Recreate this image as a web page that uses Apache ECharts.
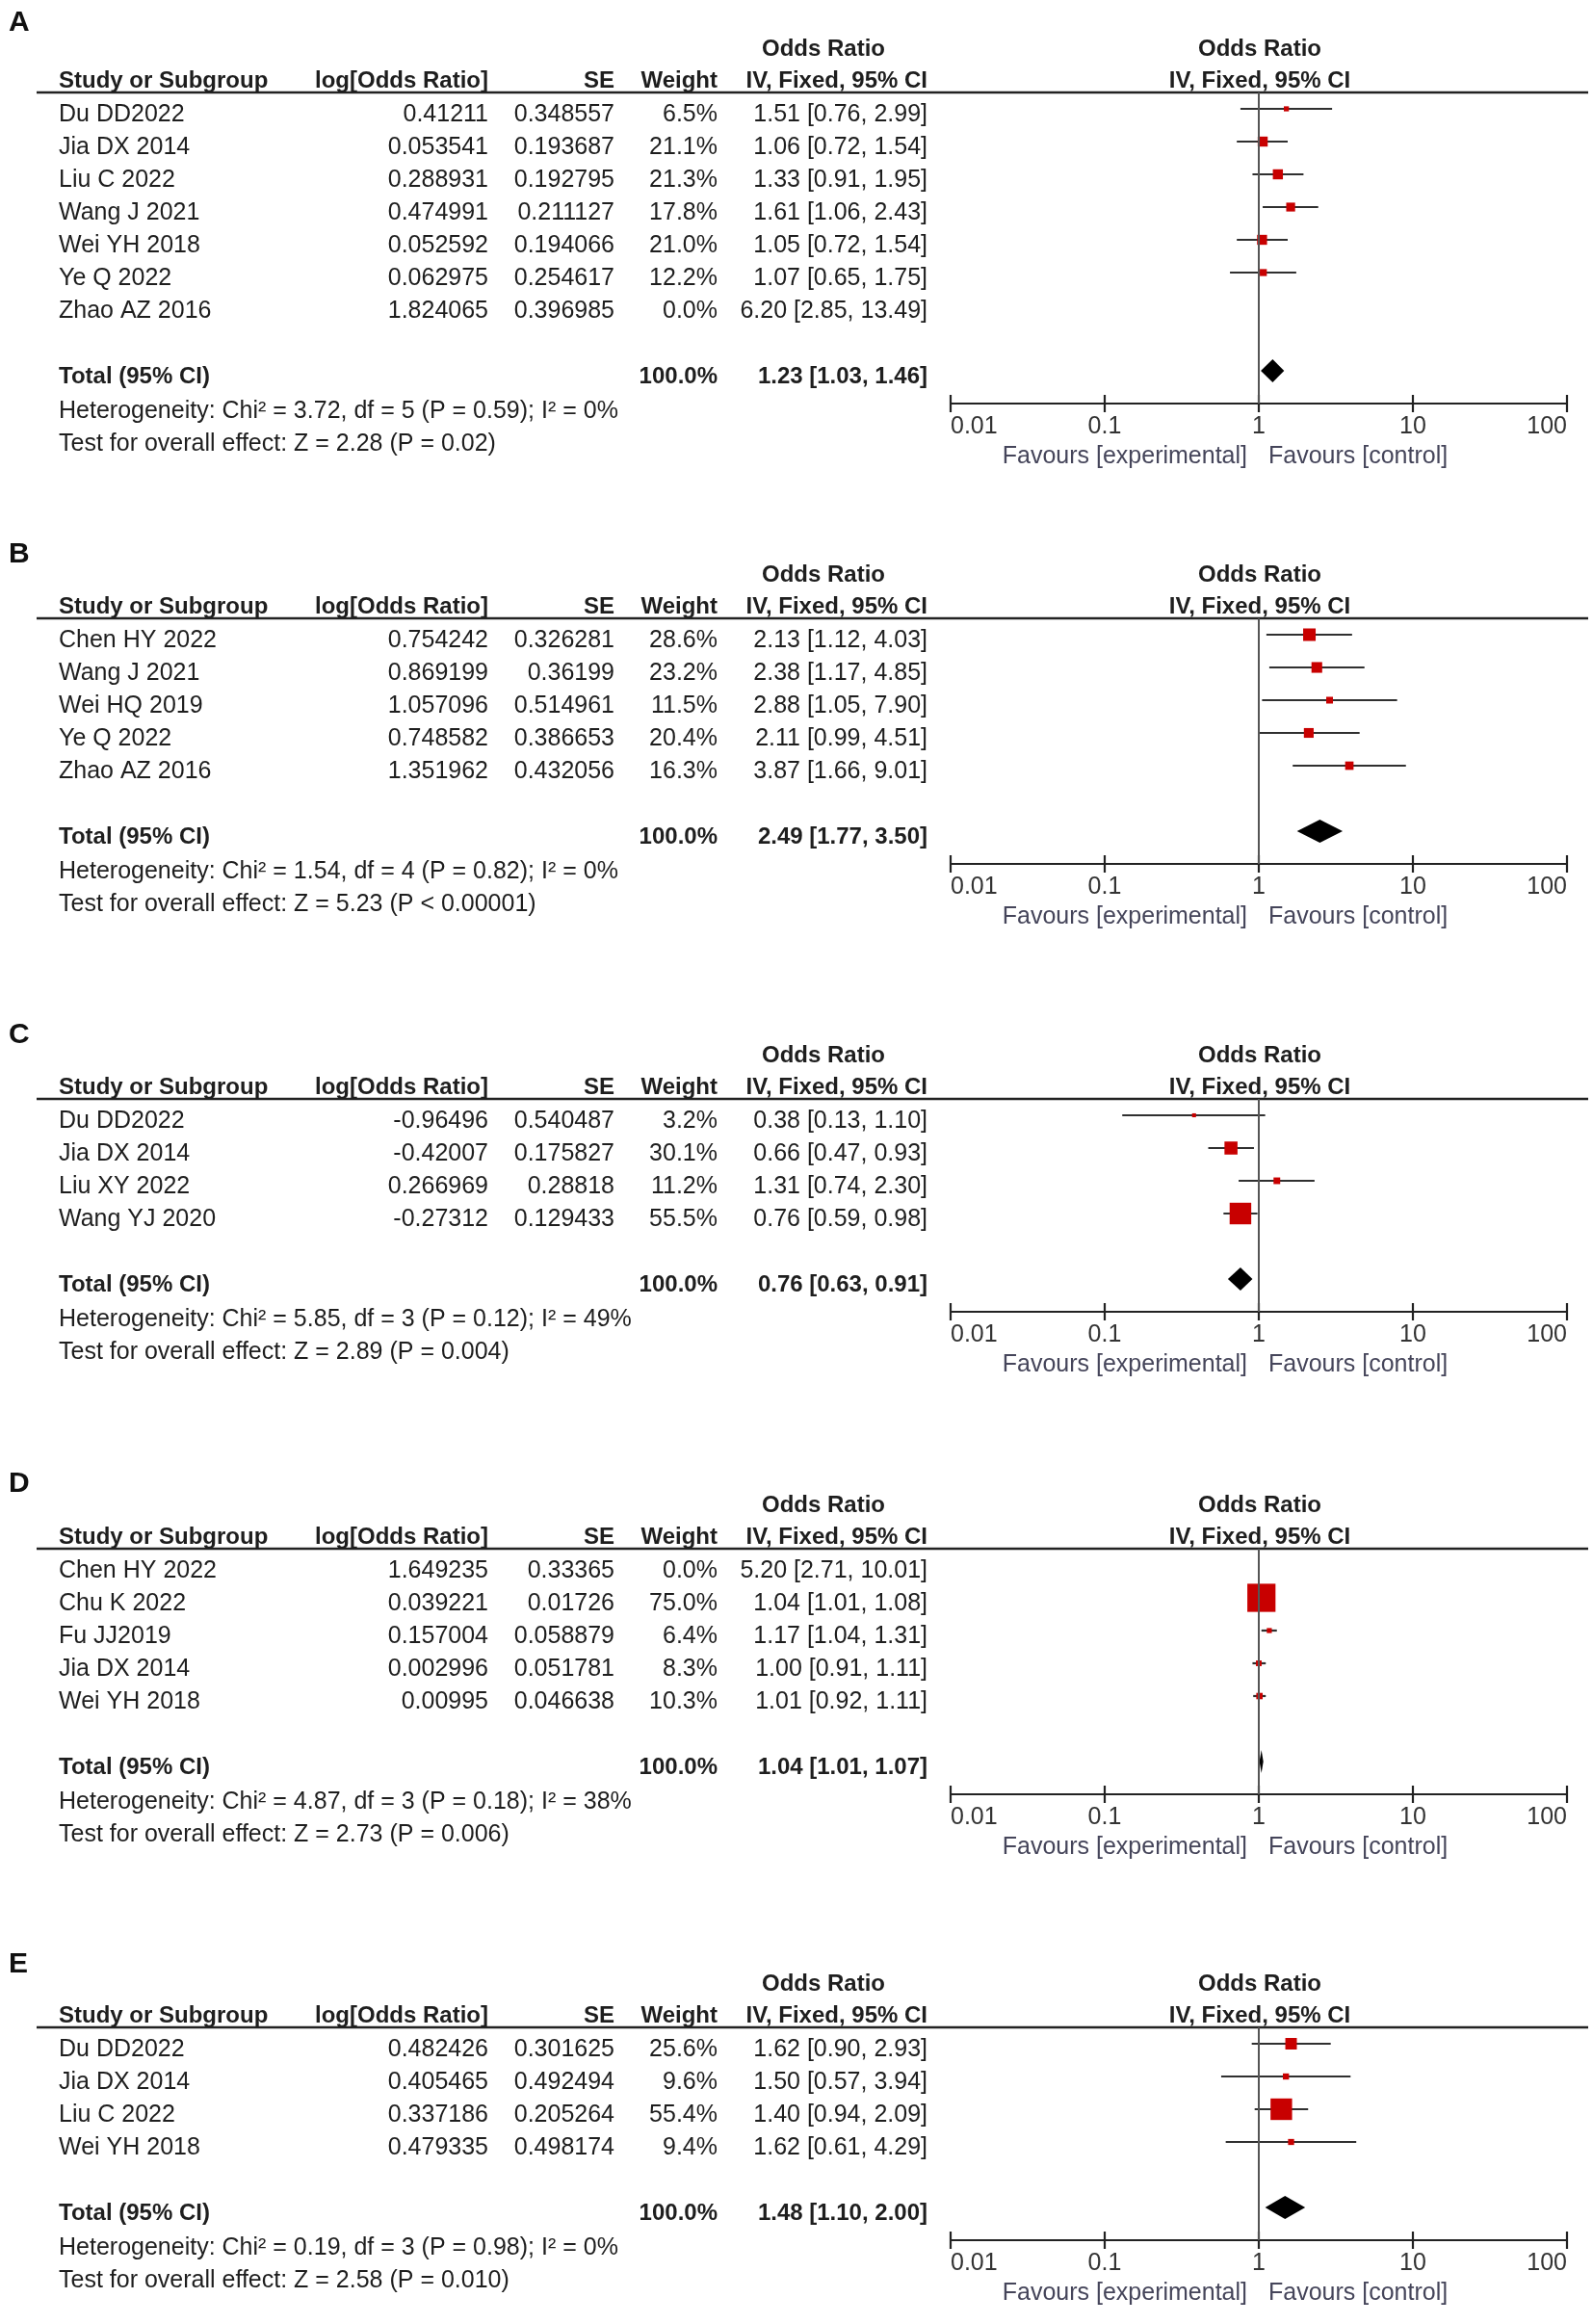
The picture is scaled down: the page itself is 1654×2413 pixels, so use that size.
<!DOCTYPE html>
<html><head><meta charset="utf-8">
<script src="https://cdn.jsdelivr.net/npm/echarts@6/dist/echarts.min.js"></script>
<style>html,body{margin:0;padding:0;background:#fff}#c{width:1654px;height:2413px}</style>
</head><body><div id="c"></div>
<script>
// ---------- DATA ----------
const tickLabels = ['0.01', '0.1', '1', '10', '100'];
const totalWeightLabel = '100.0%';

const studiesA = ['Du DD2022', 'Jia DX 2014', 'Liu C 2022', 'Wang J 2021', 'Wei YH 2018', 'Ye Q 2022', 'Zhao AZ 2016'];
const logA = ['0.41211', '0.053541', '0.288931', '0.474991', '0.052592', '0.062975', '1.824065'];
const seA = ['0.348557', '0.193687', '0.192795', '0.211127', '0.194066', '0.254617', '0.396985'];
const weightA = [6.5, 21.1, 21.3, 17.8, 21.0, 12.2, 0.0];
const orA = [1.51, 1.06, 1.33, 1.61, 1.05, 1.07, 6.20];
const loA = [0.76, 0.72, 0.91, 1.06, 0.72, 0.65, 2.85];
const hiA = [2.99, 1.54, 1.95, 2.43, 1.54, 1.75, 13.49];
const totalA = [1.23, 1.03, 1.46];
const hetA = 'Heterogeneity: Chi² = 3.72, df = 5 (P = 0.59); I² = 0%';
const testA = 'Test for overall effect: Z = 2.28 (P = 0.02)';

const studiesB = ['Chen HY 2022', 'Wang J 2021', 'Wei HQ 2019', 'Ye Q 2022', 'Zhao AZ 2016'];
const logB = ['0.754242', '0.869199', '1.057096', '0.748582', '1.351962'];
const seB = ['0.326281', '0.36199', '0.514961', '0.386653', '0.432056'];
const weightB = [28.6, 23.2, 11.5, 20.4, 16.3];
const orB = [2.13, 2.38, 2.88, 2.11, 3.87];
const loB = [1.12, 1.17, 1.05, 0.99, 1.66];
const hiB = [4.03, 4.85, 7.90, 4.51, 9.01];
const totalB = [2.49, 1.77, 3.50];
const hetB = 'Heterogeneity: Chi² = 1.54, df = 4 (P = 0.82); I² = 0%';
const testB = 'Test for overall effect: Z = 5.23 (P < 0.00001)';

const studiesC = ['Du DD2022', 'Jia DX 2014', 'Liu XY 2022', 'Wang YJ 2020'];
const logC = ['-0.96496', '-0.42007', '0.266969', '-0.27312'];
const seC = ['0.540487', '0.175827', '0.28818', '0.129433'];
const weightC = [3.2, 30.1, 11.2, 55.5];
const orC = [0.38, 0.66, 1.31, 0.76];
const loC = [0.13, 0.47, 0.74, 0.59];
const hiC = [1.10, 0.93, 2.30, 0.98];
const totalC = [0.76, 0.63, 0.91];
const hetC = 'Heterogeneity: Chi² = 5.85, df = 3 (P = 0.12); I² = 49%';
const testC = 'Test for overall effect: Z = 2.89 (P = 0.004)';

const studiesD = ['Chen HY 2022', 'Chu K 2022', 'Fu JJ2019', 'Jia DX 2014', 'Wei YH 2018'];
const logD = ['1.649235', '0.039221', '0.157004', '0.002996', '0.00995'];
const seD = ['0.33365', '0.01726', '0.058879', '0.051781', '0.046638'];
const weightD = [0.0, 75.0, 6.4, 8.3, 10.3];
const orD = [5.20, 1.04, 1.17, 1.00, 1.01];
const loD = [2.71, 1.01, 1.04, 0.91, 0.92];
const hiD = [10.01, 1.08, 1.31, 1.11, 1.11];
const totalD = [1.04, 1.01, 1.07];
const hetD = 'Heterogeneity: Chi² = 4.87, df = 3 (P = 0.18); I² = 38%';
const testD = 'Test for overall effect: Z = 2.73 (P = 0.006)';

const studiesE = ['Du DD2022', 'Jia DX 2014', 'Liu C 2022', 'Wei YH 2018'];
const logE = ['0.482426', '0.405465', '0.337186', '0.479335'];
const seE = ['0.301625', '0.492494', '0.205264', '0.498174'];
const weightE = [25.6, 9.6, 55.4, 9.4];
const orE = [1.62, 1.50, 1.40, 1.62];
const loE = [0.90, 0.57, 0.94, 0.61];
const hiE = [2.93, 3.94, 2.09, 4.29];
const totalE = [1.48, 1.10, 2.00];
const hetE = 'Heterogeneity: Chi² = 0.19, df = 3 (P = 0.98); I² = 0%';
const testE = 'Test for overall effect: Z = 2.58 (P = 0.010)';

const panelLetters = ['A', 'B', 'C', 'D', 'E'];

// ---------- LAYOUT / STYLE ----------
const ROW = 34;
const LINE_Y = [96, 642, 1141, 1608, 2105];
const LETTER_Y = [24, 576, 1075, 1541, 2040];
const PLOT_LEFT = 987, PLOT_W = 640;
const X_STUDY = 61, X_LOG = 507, X_SE = 638, X_W = 745, X_CI = 963, X_ORHEAD = 855;
const FF = '"Liberation Sans", Arial, Helvetica, sans-serif';
const FONT = '25px ' + FF;
const FONTB = 'bold 24px ' + FF;
const TXT = '#1e1e1e';

const panels = [
  {studies: studiesA, log: logA, se: seA, w: weightA, or: orA, lo: loA, hi: hiA, total: totalA, het: hetA, test: testA},
  {studies: studiesB, log: logB, se: seB, w: weightB, or: orB, lo: loB, hi: hiB, total: totalB, het: hetB, test: testB},
  {studies: studiesC, log: logC, se: seC, w: weightC, or: orC, lo: loC, hi: hiC, total: totalC, het: hetC, test: testC},
  {studies: studiesD, log: logD, se: seD, w: weightD, or: orD, lo: loD, hi: hiD, total: totalD, het: hetD, test: testD},
  {studies: studiesE, log: logE, se: seE, w: weightE, or: orE, lo: loE, hi: hiE, total: totalE, het: hetE, test: testE}
];

const ciText = (o, l, h) => o.toFixed(2) + ' [' + l.toFixed(2) + ', ' + h.toFixed(2) + ']';

function renderStudy(params, api) {
  const row = api.value(4);
  const p = api.coord([api.value(0), row]);
  const a = api.coord([api.value(1), row]);
  const b = api.coord([api.value(2), row]);
  const s = 3 + 0.35 * api.value(3);
  return {type: 'group', children: [
    {type: 'line', shape: {x1: a[0], y1: a[1], x2: b[0], y2: b[1]}, style: {stroke: '#303030', lineWidth: 2.2}},
    {type: 'rect', shape: {x: p[0] - s / 2, y: p[1] - s / 2, width: s, height: s}, style: {fill: '#c80000'}}
  ]};
}
function renderTotal(params, api) {
  const row = api.value(3);
  const p = api.coord([api.value(0), row]);
  const a = api.coord([api.value(1), row]);
  const b = api.coord([api.value(2), row]);
  const h = 12;
  return {type: 'polygon', shape: {points: [[a[0], p[1]], [p[0], p[1] - h], [b[0], p[1]], [p[0], p[1] + h]]},
    style: {fill: '#000'}};
}

const grid = [], xAxis = [], yAxis = [], series = [];
panels.forEach((p, i) => {
  const n = p.studies.length;
  grid.push({left: PLOT_LEFT, width: PLOT_W, top: LINE_Y[i], height: (n + 2.5) * ROW});
  const base = {type: 'log', logBase: 10, min: 0.01, max: 100, gridIndex: i, position: 'bottom', splitLine: {show: false}};
  xAxis.push(Object.assign({}, base, {
    axisLine: {show: true, onZero: false, lineStyle: {color: '#222', width: 2.2}},
    axisTick: {show: true, inside: false, length: 9, lineStyle: {color: '#222', width: 2.2}},
    axisLabel: {show: true, color: '#333', fontSize: 25, fontFamily: FF, margin: 12,
      alignMinLabel: 'left', alignMaxLabel: 'right',
      formatter: v => tickLabels[Math.round(Math.log10(v)) + 2]}
  }));
  xAxis.push(Object.assign({}, base, {
    axisLine: {show: false, onZero: false},
    axisTick: {show: true, inside: true, length: 9, lineStyle: {color: '#222', width: 2.2}},
    axisLabel: {show: false}
  }));
  yAxis.push({type: 'value', gridIndex: i, min: -0.5, max: n + 2, inverse: true, show: false});
  const studyData = [];
  for (let k = 0; k < n; k++) {
    if (p.w[k] > 0) studyData.push([p.or[k], p.lo[k], p.hi[k], p.w[k], k]);
  }
  series.push({type: 'line', xAxisIndex: 2 * i, yAxisIndex: i, data: [], z: 1, silent: true,
    markLine: {symbol: 'none', silent: true, label: {show: false},
      lineStyle: {color: '#555', width: 2, type: 'solid'}, data: [{xAxis: 1}]}});
  series.push({type: 'custom', xAxisIndex: 2 * i, yAxisIndex: i, z: 3, silent: true,
    encode: {x: [0, 1, 2], y: 4}, renderItem: renderStudy, data: studyData});
  series.push({type: 'custom', xAxisIndex: 2 * i, yAxisIndex: i, z: 3, silent: true,
    encode: {x: [0, 1, 2], y: 3}, renderItem: renderTotal,
    data: [[p.total[0], p.total[1], p.total[2], n + 1]]});
});

const chart = echarts.init(document.getElementById('c'), null, {renderer: 'canvas'});
chart.setOption({backgroundColor: '#fff', animation: false, grid, xAxis, yAxis, series});

// ---------- TABLE TEXT ----------
const g = [];
function txt(text, x, y, font, align, fill) {
  g.push({type: 'text', silent: true, z: 10, style: {text, x, y, font: font, fill: fill || TXT,
    align: align, textAlign: align, verticalAlign: 'middle', textVerticalAlign: 'middle'}});
}
panels.forEach((p, i) => {
  const n = p.studies.length;
  const L = LINE_Y[i];
  const rowY = r => chart.convertToPixel({gridIndex: i}, [1, r])[1] + 6;
  const x1 = chart.convertToPixel({gridIndex: i}, [1, 0])[0];
  const axisY = chart.convertToPixel({gridIndex: i}, [1, n + 2])[1];
  g.push({type: 'line', silent: true, shape: {x1: 38, y1: L, x2: 1649, y2: L}, style: {stroke: '#222', lineWidth: 2.5}});
  txt(panelLetters[i], 9, LETTER_Y[i], 'bold 30px ' + FF, 'left', '#111');
  txt('Odds Ratio', X_ORHEAD, L - 45, FONTB, 'center');
  txt('Odds Ratio', x1 + 1, L - 45, FONTB, 'center');
  txt('Study or Subgroup', X_STUDY, L - 12, FONTB, 'left');
  txt('log[Odds Ratio]', X_LOG, L - 12, FONTB, 'right');
  txt('SE', X_SE, L - 12, FONTB, 'right');
  txt('Weight', X_W, L - 12, FONTB, 'right');
  txt('IV, Fixed, 95% CI', X_CI, L - 12, FONTB, 'right');
  txt('IV, Fixed, 95% CI', x1 + 1, L - 12, FONTB, 'center');
  for (let k = 0; k < n; k++) {
    const y = rowY(k);
    txt(p.studies[k], X_STUDY, y, FONT, 'left');
    txt(p.log[k], X_LOG, y, FONT, 'right');
    txt(p.se[k], X_SE, y, FONT, 'right');
    txt(p.w[k].toFixed(1) + '%', X_W, y, FONT, 'right');
    txt(ciText(p.or[k], p.lo[k], p.hi[k]), X_CI, y, FONT, 'right');
  }
  const ty = rowY(n + 1);
  txt('Total (95% CI)', X_STUDY, ty, FONTB, 'left');
  txt(totalWeightLabel, X_W, ty, FONTB, 'right');
  txt(ciText(p.total[0], p.total[1], p.total[2]), X_CI, ty, FONTB, 'right');
  txt(p.het, X_STUDY, axisY + 8, FONT, 'left');
  txt(p.test, X_STUDY, axisY + 42, FONT, 'left');
  txt('Favours [experimental]', x1 - 12, axisY + 55, FONT, 'right', '#45455a');
  txt('Favours [control]', x1 + 10, axisY + 55, FONT, 'left', '#45455a');
});
chart.setOption({graphic: {elements: g}});
</script></body></html>
